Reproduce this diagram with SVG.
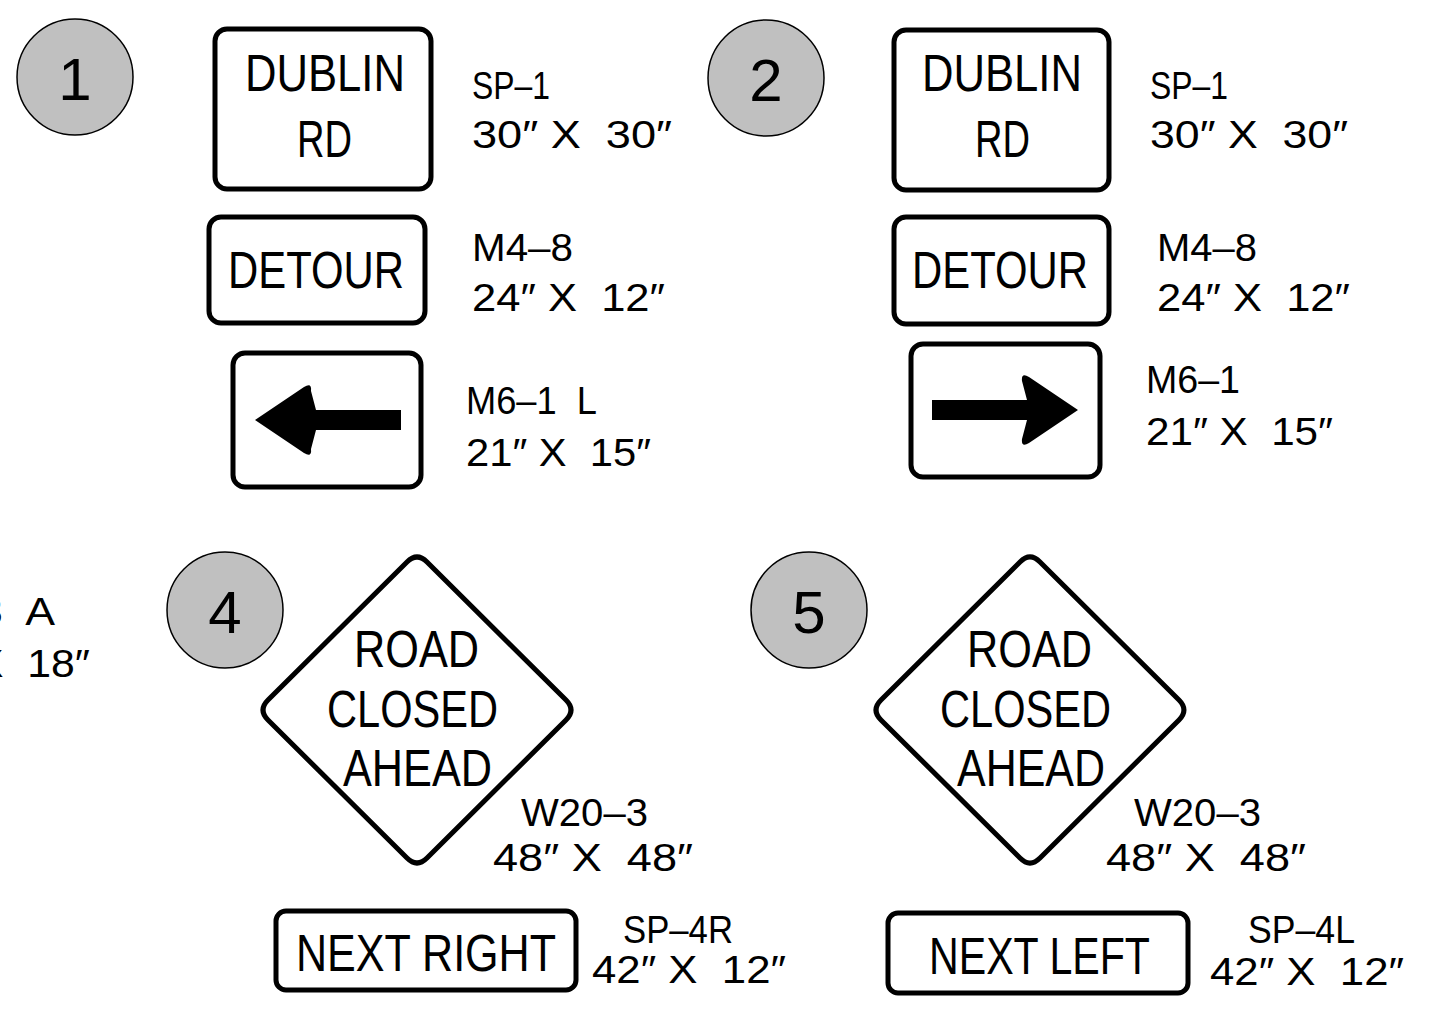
<svg xmlns="http://www.w3.org/2000/svg" width="1435" height="1012" viewBox="0 0 1435 1012">
<style>
.bg{fill:#fff}
.num{fill:#c0c0c0;stroke:#000;stroke-width:1.5}
.numt{font-family:"Liberation Sans",Arial,sans-serif;font-size:60px;fill:#000;text-anchor:middle}
.sign{fill:#fff;stroke:#000;stroke-width:5}
.st{font-family:"Liberation Sans",Arial,sans-serif;font-size:52px;fill:#000}
.lb{font-family:"Liberation Sans",Arial,sans-serif;font-size:38px;fill:#000;white-space:pre}
.arr{fill:#000}
</style>
<rect class="bg" x="0" y="0" width="1435" height="1012"/>

<g id="partial-label">
<text class="lb" x="-22" y="625" textLength="77" lengthAdjust="spacingAndGlyphs">3  A</text>
<text class="lb" x="-25" y="677" textLength="115" lengthAdjust="spacingAndGlyphs">X  18″</text>
</g>

<g id="marker-1">
<circle class="num" cx="75" cy="77" r="58"/>
<text class="numt" x="75" y="100">1</text>
</g>
<g id="marker-2">
<circle class="num" cx="766" cy="78" r="58"/>
<text class="numt" x="766" y="101">2</text>
</g>
<g id="marker-4">
<circle class="num" cx="225" cy="610" r="58"/>
<text class="numt" x="225" y="633">4</text>
</g>
<g id="marker-5">
<circle class="num" cx="809" cy="610" r="58"/>
<text class="numt" x="809" y="633">5</text>
</g>

<g id="sign-1-sp1">
<rect class="sign" x="215" y="29" width="216" height="160" rx="12"/>
<text class="st" x="245" y="91" textLength="160" lengthAdjust="spacingAndGlyphs">DUBLIN</text>
<text class="st" x="297" y="157" textLength="55" lengthAdjust="spacingAndGlyphs">RD</text>
<text class="lb" x="472" y="99" textLength="78" lengthAdjust="spacingAndGlyphs">SP–1</text>
<text class="lb" x="472" y="148" textLength="200" lengthAdjust="spacingAndGlyphs">30″ X  30″</text>
</g>
<g id="sign-1-m48">
<rect class="sign" x="209" y="217" width="216" height="106" rx="12"/>
<text class="st" x="228" y="288" textLength="176" lengthAdjust="spacingAndGlyphs">DETOUR</text>
<text class="lb" x="472" y="261" textLength="101" lengthAdjust="spacingAndGlyphs">M4–8</text>
<text class="lb" x="472" y="311" textLength="193" lengthAdjust="spacingAndGlyphs">24″ X  12″</text>
</g>
<g id="sign-1-m61l">
<rect class="sign" x="233" y="353" width="188" height="134" rx="12"/>
<path class="arr" d="M255,420 L304,387 Q312,382 311,391 L316,410 L401,410 L401,430 L316,430 L311,449 Q312,458 304,453 Z"/>
<text class="lb" x="466" y="414" textLength="131" lengthAdjust="spacingAndGlyphs">M6–1  L</text>
<text class="lb" x="466" y="466" textLength="185" lengthAdjust="spacingAndGlyphs">21″ X  15″</text>
</g>

<g id="sign-2-sp1">
<rect class="sign" x="894" y="30" width="215" height="160" rx="12"/>
<text class="st" x="922" y="91" textLength="160" lengthAdjust="spacingAndGlyphs">DUBLIN</text>
<text class="st" x="975" y="157" textLength="55" lengthAdjust="spacingAndGlyphs">RD</text>
<text class="lb" x="1150" y="99" textLength="78" lengthAdjust="spacingAndGlyphs">SP–1</text>
<text class="lb" x="1150" y="148" textLength="198" lengthAdjust="spacingAndGlyphs">30″ X  30″</text>
</g>
<g id="sign-2-m48">
<rect class="sign" x="894" y="217" width="215" height="107" rx="12"/>
<text class="st" x="912" y="288" textLength="176" lengthAdjust="spacingAndGlyphs">DETOUR</text>
<text class="lb" x="1157" y="261" textLength="100" lengthAdjust="spacingAndGlyphs">M4–8</text>
<text class="lb" x="1157" y="311" textLength="193" lengthAdjust="spacingAndGlyphs">24″ X  12″</text>
</g>
<g id="sign-2-m61">
<rect class="sign" x="911" y="344" width="189" height="133" rx="12"/>
<path class="arr" d="M1078,410 L1029,377 Q1021,372 1022,381 L1027,400 L932,400 L932,420 L1027,420 L1022,439 Q1021,448 1029,443 Z"/>
<text class="lb" x="1146" y="393" textLength="94" lengthAdjust="spacingAndGlyphs">M6–1</text>
<text class="lb" x="1146" y="445" textLength="187" lengthAdjust="spacingAndGlyphs">21″ X  15″</text>
</g>

<g id="sign-4-w203">
<path class="sign" d="M407,562 Q417,552 427,562 L566,700 Q576,710 566,720 L427,858 Q417,868 407,858 L268,720 Q258,710 268,700 Z"/>
<text class="st" x="354" y="667" textLength="125" lengthAdjust="spacingAndGlyphs">ROAD</text>
<text class="st" x="327" y="727" textLength="171" lengthAdjust="spacingAndGlyphs">CLOSED</text>
<text class="st" x="343" y="786" textLength="149" lengthAdjust="spacingAndGlyphs">AHEAD</text>
<text class="lb" x="521" y="826" textLength="127" lengthAdjust="spacingAndGlyphs">W20–3</text>
<text class="lb" x="493" y="871" textLength="200" lengthAdjust="spacingAndGlyphs">48″ X  48″</text>
</g>
<g id="sign-5-w203">
<path class="sign" d="M1020,562 Q1030,552 1040,562 L1179,700 Q1189,710 1179,720 L1040,858 Q1030,868 1020,858 L881,720 Q871,710 881,700 Z"/>
<text class="st" x="967" y="667" textLength="125" lengthAdjust="spacingAndGlyphs">ROAD</text>
<text class="st" x="940" y="727" textLength="171" lengthAdjust="spacingAndGlyphs">CLOSED</text>
<text class="st" x="957" y="786" textLength="148" lengthAdjust="spacingAndGlyphs">AHEAD</text>
<text class="lb" x="1134" y="826" textLength="127" lengthAdjust="spacingAndGlyphs">W20–3</text>
<text class="lb" x="1106" y="871" textLength="200" lengthAdjust="spacingAndGlyphs">48″ X  48″</text>
</g>

<g id="sign-4-sp4r">
<rect class="sign" x="276" y="911" width="300" height="79" rx="10"/>
<text class="st" x="296" y="971" textLength="260" lengthAdjust="spacingAndGlyphs">NEXT  RIGHT</text>
<text class="lb" x="623" y="943" textLength="110" lengthAdjust="spacingAndGlyphs">SP–4R</text>
<text class="lb" x="592" y="983" textLength="194" lengthAdjust="spacingAndGlyphs">42″ X  12″</text>
</g>
<g id="sign-5-sp4l">
<rect class="sign" x="888" y="913" width="300" height="80" rx="10"/>
<text class="st" x="929" y="974" textLength="221" lengthAdjust="spacingAndGlyphs">NEXT  LEFT</text>
<text class="lb" x="1248" y="943" textLength="107" lengthAdjust="spacingAndGlyphs">SP–4L</text>
<text class="lb" x="1210" y="985" textLength="194" lengthAdjust="spacingAndGlyphs">42″ X  12″</text>
</g>

<g id="connectors"></g>
</svg>
